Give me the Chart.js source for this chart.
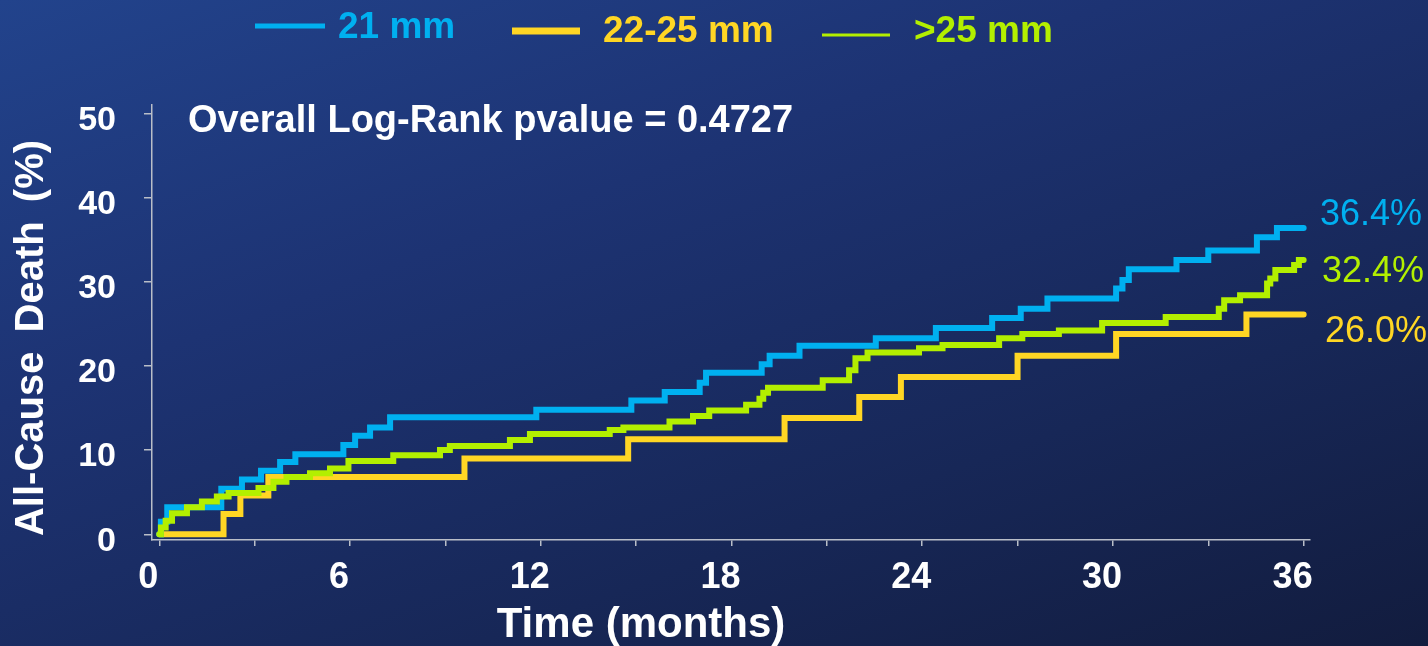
<!DOCTYPE html>
<html>
<head>
<meta charset="utf-8">
<script src="https://cdn.jsdelivr.net/npm/chart.js@4.4.1/dist/chart.umd.min.js"></script>
<style>
  html, body { margin:0; padding:0; }
  body { width:1428px; height:646px; overflow:hidden;
    background: linear-gradient(160deg, #22438c 0%, #1d3373 35%, #172757 70%, #121c3e 100%); }
  #wrap { position:relative; width:1428px; height:646px; }
</style>
</head>
<body>
<div id="wrap"><canvas id="km" width="1428" height="646"></canvas></div>
<script>
// Kaplan-Meier steps: time (months) where the curve jumps, value (%) after the jump
const blueTimes  = [0, 0.05, 0.25, 1.95, 2.6, 3.2, 3.8, 4.28, 5.79, 6.16, 6.63, 7.26, 11.86, 14.85, 15.9, 17.0, 17.2, 18.95, 19.2, 20.14, 22.54, 24.43, 26.2, 27.1, 27.94, 30.1, 30.3, 30.5, 32.0, 33.0, 34.53, 35.16, 36.0];
const blueValues = [0, 1.5, 3.2, 5.4, 6.5, 7.55, 8.6, 9.5, 10.6, 11.7, 12.7, 13.9, 14.8, 15.9, 16.9, 18.0, 19.2, 20.2, 21.2, 22.4, 23.3, 24.5, 25.7, 26.8, 28.0, 29.2, 30.2, 31.5, 32.6, 33.7, 35.3, 36.4, 36.4];

const yellowTimes  = [0, 2.02, 2.55, 3.43, 9.6, 14.75, 19.67, 22.02, 23.33, 27.0, 30.1, 34.2, 36.0];
const yellowValues = [0, 2.4, 4.6, 6.8, 9.0, 11.3, 13.8, 16.3, 18.7, 21.2, 23.8, 26.1, 26.1];

const greenTimes  = [0, 0.05, 0.2, 0.4, 0.87, 1.34, 1.81, 2.18, 3.12, 3.59, 4.0, 4.74, 5.37, 5.95, 7.36, 8.83, 9.14, 11.03, 11.66, 14.17, 14.6, 16.05, 16.79, 17.3, 18.46, 18.88, 19.0, 19.15, 20.87, 21.7, 21.9, 22.28, 23.9, 24.64, 26.42, 27.15, 28.3, 29.66, 31.66, 33.33, 33.5, 34.0, 34.85, 34.95, 35.11, 35.7, 35.85, 36.0];
const greenValues = [0, 0.8, 1.6, 2.5, 3.2, 3.9, 4.5, 4.9, 5.5, 6.25, 6.8, 7.25, 7.8, 8.7, 9.4, 10.0, 10.5, 11.2, 11.9, 12.4, 12.7, 13.4, 14.05, 14.7, 15.4, 16.1, 16.8, 17.4, 18.3, 19.5, 20.9, 21.6, 22.1, 22.5, 23.3, 23.8, 24.2, 25.1, 25.8, 26.8, 27.8, 28.4, 29.8, 30.4, 31.4, 32.0, 32.6, 32.6];

const seriesNames = ['21 mm', '22-25 mm', '>25 mm'];
const endLabels = ['36.4%', '32.4%', '26.0%'];
const xTickValues = [0, 3, 6, 9, 12, 15, 18, 21, 24, 27, 30, 33, 36];
const yTickValues = [0, 10, 20, 30, 40, 50];
const pvalueText = 'Overall Log-Rank pvalue = 0.4727';
const xTitle = 'Time (months)';
const yTitle = 'All-Cause Death (%)';

const BLUE = '#00b0f0';
const YELLOW = '#ffd624';
const GREEN = '#b3ef00';
const FONT = '"Liberation Sans", Arial, sans-serif';

function toPoints(times, values) {
  return times.map((t, i) => ({ x: t, y: values[i] }));
}

const textPlugin = {
  id: 'slideText',
  afterDraw(chart) {
    const ctx = chart.ctx;
    ctx.save();

    // legend across the top
    const legend = [
      { x0: 255, x1: 325, y: 26, w: 5, color: BLUE, tx: 338, ty: 38 },
      { x0: 512, x1: 580, y: 31, w: 7, color: YELLOW, tx: 603, ty: 42 },
      { x0: 822, x1: 890, y: 35, w: 3, color: GREEN, tx: 914, ty: 42 }
    ];
    ctx.font = 'bold 37px ' + FONT;
    ctx.textBaseline = 'alphabetic';
    ctx.textAlign = 'left';
    legend.forEach((l, i) => {
      ctx.strokeStyle = l.color;
      ctx.lineWidth = l.w;
      ctx.beginPath();
      ctx.moveTo(l.x0, l.y);
      ctx.lineTo(l.x1, l.y);
      ctx.stroke();
      ctx.fillStyle = l.color;
      ctx.fillText(seriesNames[i], l.tx, l.ty);
    });

    // p-value note
    ctx.fillStyle = '#ffffff';
    ctx.font = 'bold 38px ' + FONT;
    ctx.fillText(pvalueText, 188, 132);

    // end-of-curve percentages
    ctx.font = '36px ' + FONT;
    const ends = [
      { x: 1320, y: 225, color: BLUE },
      { x: 1322, y: 282, color: GREEN },
      { x: 1325, y: 342, color: YELLOW }
    ];
    ends.forEach((e, i) => {
      ctx.fillStyle = e.color;
      ctx.fillText(endLabels[i], e.x, e.y);
    });

    // axis titles
    ctx.fillStyle = '#ffffff';
    ctx.font = 'bold 42px ' + FONT;
    ctx.textAlign = 'center';
    ctx.fillText(xTitle, 641, 637);

    ctx.translate(43, 338);
    ctx.rotate(-Math.PI / 2);
    ctx.font = 'bold 40px ' + FONT;
    ctx.wordSpacing = '8px';
    ctx.fillText(yTitle, 0, 0);

    ctx.restore();
  }
};

const axisGrey = '#b9bec8';

new Chart(document.getElementById('km'), {
  type: 'line',
  data: {
    datasets: [
      { label: seriesNames[0], data: toPoints(blueTimes, blueValues), borderColor: BLUE, order: 1 },
      { label: seriesNames[1], data: toPoints(yellowTimes, yellowValues), borderColor: YELLOW, order: 2 },
      { label: seriesNames[2], data: toPoints(greenTimes, greenValues), borderColor: GREEN, order: 0 }
    ]
  },
  options: {
    responsive: false,
    animation: false,
    layout: { padding: { left: 0, top: 105, right: 118, bottom: 0 } },
    elements: {
      line: { borderWidth: 6, stepped: true, fill: false, borderCapStyle: 'round', borderJoinStyle: 'miter' },
      point: { radius: 0 }
    },
    plugins: { legend: { display: false }, tooltip: { enabled: false } },
    scales: {
      x: {
        type: 'linear',
        min: -0.23,
        max: 36.2,
        afterBuildTicks: s => { s.ticks = xTickValues.map(v => ({ value: v })); },
        afterFit: s => { s.height = 106; },
        ticks: {
          autoSkip: false,
          maxRotation: 0,
          color: '#ffffff',
          font: { family: FONT, size: 36, weight: 'bold' },
          padding: 10,
          labelOffset: -11,
          callback: v => (v % 6 === 0 ? v : '')
        },
        grid: { drawOnChartArea: false, tickLength: 6, color: axisGrey, lineWidth: 1.5 },
        border: { color: axisGrey, width: 1.5 }
      },
      y: {
        min: -0.68,
        max: 51,
        afterBuildTicks: s => { s.ticks = yTickValues.map(v => ({ value: v })); },
        afterFit: s => { s.width = 152; },
        ticks: {
          color: '#ffffff',
          font: { family: FONT, size: 34, weight: 'bold' },
          padding: 28,
          labelOffset: 7
        },
        grid: { drawOnChartArea: false, tickLength: 8, color: axisGrey, lineWidth: 1.5 },
        border: { color: axisGrey, width: 1.5 }
      }
    }
  },
  plugins: [textPlugin]
});
</script>
</body>
</html>
